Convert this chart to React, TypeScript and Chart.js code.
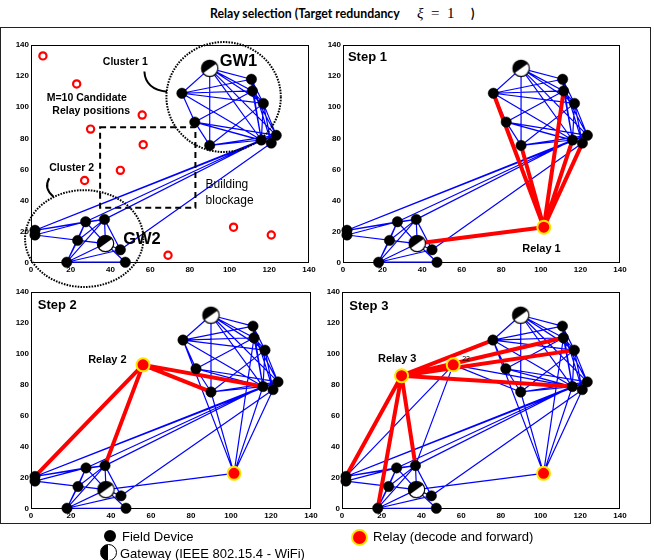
import React, { useEffect, useRef } from "react";
import { Chart, registerables } from "chart.js";

Chart.register(...registerables);

// ---------- Data (data units, both axes 0..140) ----------
const axisMin = 0;
const axisMax = 140;
const axisStep = 20;

const fieldIds = ["B", "C", "D", "E", "F", "G", "H", "I", "J", "K", "L", "M", "N", "O", "Q", "R", "S"];
const fieldX = [111, 111.5, 76, 117, 82.5, 116, 123.5, 121, 90, 2, 2, 27.5, 37, 23.5, 45, 18, 47.5];
const fieldY = [118, 110.5, 109, 102.5, 90.5, 79, 82, 77, 75.5, 21, 18, 26.5, 28, 14.5, 8.5, 0.5, 0.5];

const gatewayIds = ["A", "P"];
const gatewayX = [90, 37.5];
const gatewayY = [125, 12.5];

const relayIds = ["R1", "R2", "R3"];
const relayX = [101.5, 56, 30];
const relayY = [23, 93, 86];

const candidateX = [6, 23, 56, 30, 56.5, 45, 27, 102, 121, 69];
const candidateY = [133, 115, 95, 86, 76, 59.5, 53, 23, 18, 5];

const meshLinks = [
  "A-D", "A-J", "A-B", "A-C", "A-E", "A-G", "A-H",
  "D-B", "D-C", "D-E", "D-G", "D-F",
  "F-C", "F-G", "F-H", "F-I", "F-J",
  "J-E", "J-G", "J-H",
  "B-C", "B-E", "B-G", "B-I", "C-E", "C-G", "C-H", "E-G", "E-H", "E-I", "G-H", "G-I", "H-I",
  "K-L", "K-M", "K-N", "L-M", "L-P", "M-N", "M-O", "M-P", "N-O", "N-P", "N-Q", "N-R",
  "M-R", "O-P", "P-Q", "P-R", "P-S", "R-Q", "R-S", "O-R",
  "G-K", "H-K", "G-M", "G-N", "I-Q",
];
const relay1Links = ["R1-D", "R1-J", "R1-C", "R1-G", "R1-I", "R1-P"];
const relay2Links = ["R2-K", "R2-N", "R2-J", "R2-G"];
const relay3Links = ["R3-K", "R3-R", "R3-N", "R3-D", "R3-C", "R3-E", "R3-G"];

const titleMain = "Relay selection (Target redundancy";
const stepLabels = ["", "Step 1", "Step 2", "Step 3"];
const relayLabels = ["", "Relay 1", "Relay 2", "Relay 3"];
const legendLabels = ["Field Device", "Gateway (IEEE 802.15.4 - WiFi)", "Relay (decode and forward)"];

// ---------- helpers ----------
const nodeMap: Record<string, { x: number; y: number }> = {};
fieldIds.forEach((id, i) => (nodeMap[id] = { x: fieldX[i], y: fieldY[i] }));
gatewayIds.forEach((id, i) => (nodeMap[id] = { x: gatewayX[i], y: gatewayY[i] }));
relayIds.forEach((id, i) => (nodeMap[id] = { x: relayX[i], y: relayY[i] }));

function linkData(links: string[]) {
  const out: { x: number; y: number }[] = [];
  for (const l of links) {
    const [a, b] = l.split("-");
    out.push({ ...nodeMap[a] }, { ...nodeMap[b] }, { x: NaN, y: NaN });
  }
  return out;
}

const FONT = "'Liberation Sans', Arial, sans-serif";

type Panel = {
  area: [number, number, number, number];
  blue: string[];
  red: string[];
  relays: number;
  candidates: boolean;
  bottomMargin: number;
  texts: { t: string; x: number; y: number; font: string; align?: CanvasTextAlign }[];
  shapes: boolean;
};

const panels: Panel[] = [
  {
    area: [31, 45, 309, 263], blue: meshLinks, red: [], relays: 0, candidates: true, bottomMargin: 32, shapes: true,
    texts: [
      { t: "Cluster 1", x: 47.5, y: 129, font: `bold 10.5px ${FONT}` },
      { t: "GW1", x: 104.5, y: 129.3, font: `bold 16.5px ${FONT}` },
      { t: "M=10 Candidate", x: 28.1, y: 105.8, font: `bold 10.5px ${FONT}` },
      { t: "Relay positions", x: 30.3, y: 97.6, font: `bold 10.5px ${FONT}` },
      { t: "Building", x: 87.9, y: 50, font: `12px ${FONT}`, align: "left" },
      { t: "blockage", x: 87.9, y: 40, font: `12px ${FONT}`, align: "left" },
      { t: "Cluster 2", x: 20.5, y: 61.2, font: `bold 10.5px ${FONT}` },
      { t: "GW2", x: 55.9, y: 15.2, font: `bold 16.5px ${FONT}` },
    ],
  },
  {
    area: [343, 45, 620, 263], blue: meshLinks, red: relay1Links, relays: 1, candidates: false, bottomMargin: 18, shapes: false,
    texts: [
      { t: stepLabels[1], x: 2.5, y: 132, font: `bold 13px ${FONT}`, align: "left" },
      { t: relayLabels[1], x: 100.3, y: 8.8, font: `bold 11px ${FONT}` },
    ],
  },
  {
    area: [31, 292, 311, 509], blue: [...meshLinks, ...relay1Links], red: relay2Links, relays: 2, candidates: false, bottomMargin: 18, shapes: false,
    texts: [
      { t: stepLabels[2], x: 3.4, y: 131.4, font: `bold 13px ${FONT}`, align: "left" },
      { t: relayLabels[2], x: 38.2, y: 96, font: `bold 11px ${FONT}` },
    ],
  },
  {
    area: [342, 292, 620, 509], blue: [...meshLinks, ...relay1Links, ...relay2Links], red: relay3Links, relays: 3, candidates: false, bottomMargin: 18, shapes: false,
    texts: [
      { t: stepLabels[3], x: 3.7, y: 131, font: `bold 13px ${FONT}`, align: "left" },
      { t: relayLabels[3], x: 27.8, y: 96.8, font: `bold 11px ${FONT}` },
      { t: "22", x: 62.5, y: 96.8, font: `7px ${FONT}` },
    ],
  },
];

const M_LEFT = 30, M_TOP = 10, M_RIGHT = 14, Y_W = 26, X_H = 14;

function makeGatewayIcon(r: number, diagonal: boolean): HTMLCanvasElement {
  const s = Math.ceil(r * 2 + 4);
  const c = document.createElement("canvas");
  c.width = s;
  c.height = s;
  const g = c.getContext("2d")!;
  const cx = s / 2, cy = s / 2;
  g.beginPath();
  g.arc(cx, cy, r, 0, Math.PI * 2);
  g.fillStyle = "#fff";
  g.fill();
  g.beginPath();
  if (diagonal) g.arc(cx, cy, r, Math.PI * 0.8, Math.PI * 1.8);
  else g.arc(cx, cy, r, Math.PI * 0.5, Math.PI * 1.5);
  g.closePath();
  g.fillStyle = "#000";
  g.fill();
  g.beginPath();
  g.arc(cx, cy, r, 0, Math.PI * 2);
  g.lineWidth = 1.2;
  g.strokeStyle = "#000";
  g.stroke();
  return c;
}

function makeConfig(p: Panel, gw: HTMLCanvasElement): any {
  const datasets: any[] = [];
  datasets.push({
    data: linkData(p.blue), showLine: true, spanGaps: false, borderColor: "#0000ff",
    borderWidth: 1.2, pointRadius: 0, order: 6,
  });
  if (p.red.length) {
    datasets.push({
      data: linkData(p.red), showLine: true, spanGaps: false, borderColor: "#ff0000",
      borderWidth: 4, pointRadius: 0, order: 5,
    });
  }
  if (p.candidates) {
    datasets.push({
      data: candidateX.map((x, i) => ({ x, y: candidateY[i] })), showLine: false,
      pointRadius: 3.6, pointBackgroundColor: "#fff", pointBorderColor: "#ff0000",
      pointBorderWidth: 2.2, order: 4, clip: false,
    });
  }
  datasets.push({
    data: fieldX.map((x, i) => ({ x, y: fieldY[i] })), showLine: false,
    pointRadius: 5.2, pointBackgroundColor: "#000", pointBorderColor: "#000",
    pointBorderWidth: 0.5, order: 3, clip: false,
  });
  datasets.push({
    data: gatewayX.map((x, i) => ({ x, y: gatewayY[i] })), showLine: false,
    pointStyle: gw, pointRadius: 8, order: 2, clip: false,
  });
  if (p.relays > 0) {
    datasets.push({
      data: relayX.slice(0, p.relays).map((x, i) => ({ x, y: relayY[i] })), showLine: false,
      pointRadius: 6.5, pointBackgroundColor: "#ff0000", pointBorderColor: "#ffe600",
      pointBorderWidth: 2, order: 1, clip: false,
    });
  }

  const tickFont = { family: FONT, size: 8, weight: "bold" as const };

  const boxPlugin = {
    id: "box",
    beforeDatasetsDraw(chart: any) {
      const { ctx, chartArea: a } = chart;
      ctx.save();
      ctx.strokeStyle = "#000";
      ctx.lineWidth = 1;
      ctx.strokeRect(a.left + 0.5, a.top + 0.5, a.right - a.left - 1, a.bottom - a.top - 1);
      ctx.restore();
    },
    afterDatasetsDraw(chart: any) {
      const { ctx } = chart;
      const xs = chart.scales.x, ys = chart.scales.y;
      const px = (v: number) => xs.getPixelForValue(v);
      const py = (v: number) => ys.getPixelForValue(v);
      ctx.save();
      if (p.shapes) {
        ctx.strokeStyle = "#000";
        ctx.lineWidth = 2;
        ctx.setLineDash([1.6, 1.2]);
        const ell = (cx: number, cy: number, rx: number, ry: number) => {
          ctx.beginPath();
          ctx.ellipse(px(cx), py(cy), px(cx + rx) - px(cx), py(cy) - py(cy + ry), 0, 0, Math.PI * 2);
          ctx.stroke();
        };
        ell(97, 106.6, 28.8, 35.3);
        ell(26.8, 15.7, 29.8, 31.1);
        ctx.setLineDash([6, 4]);
        ctx.lineWidth = 2;
        ctx.strokeRect(px(34.8), py(87.2), px(82.8) - px(34.8), py(35.5) - py(87.2));
        ctx.setLineDash([]);
        ctx.lineWidth = 2;
        ctx.beginPath();
        ctx.moveTo(px(57.1), py(123));
        ctx.quadraticCurveTo(px(57.6), py(111.5), px(68.5), py(110));
        ctx.stroke();
        ctx.beginPath();
        ctx.moveTo(px(9.2), py(54.4));
        ctx.quadraticCurveTo(px(6.2), py(48), px(11.3), py(42.6));
        ctx.stroke();
      }
      ctx.fillStyle = "#000";
      ctx.textBaseline = "middle";
      for (const t of p.texts) {
        ctx.font = t.font;
        ctx.textAlign = t.align || "center";
        ctx.fillText(t.t, px(t.x), py(t.y));
      }
      ctx.restore();
    },
  };

  return {
    type: "scatter",
    data: { datasets },
    options: {
      animation: false,
      responsive: false,
      maintainAspectRatio: false,
      events: [],
      layout: {
        padding: { left: M_LEFT - Y_W, top: M_TOP, right: M_RIGHT, bottom: p.bottomMargin - X_H },
      },
      plugins: { legend: { display: false }, tooltip: { enabled: false }, title: { display: false } },
      scales: {
        x: {
          type: "linear", min: axisMin, max: axisMax,
          ticks: { stepSize: axisStep, font: tickFont, color: "#000", padding: 2, maxRotation: 0, autoSkip: false },
          grid: { display: false, drawTicks: false },
          border: { display: false },
          afterFit: (s: any) => { s.height = X_H; s.paddingLeft = 0; s.paddingRight = 0; },
        },
        y: {
          type: "linear", min: axisMin, max: axisMax,
          ticks: { stepSize: axisStep, font: tickFont, color: "#000", padding: 2, autoSkip: false },
          grid: { display: false, drawTicks: false },
          border: { display: false },
          afterFit: (s: any) => { s.width = Y_W; s.paddingTop = 0; s.paddingBottom = 0; },
        },
      },
    },
    plugins: [boxPlugin],
  };
}

export default function App() {
  const canvasRefs = useRef<(HTMLCanvasElement | null)[]>([]);

  useEffect(() => {
    const gw = makeGatewayIcon(8.2, true);
    const charts = panels.map((p, i) => new Chart(canvasRefs.current[i]!, makeConfig(p, gw)));
    return () => charts.forEach((c) => c.destroy());
  }, []);

  const textStyle: React.CSSProperties = {
    position: "absolute", fontFamily: FONT, fontSize: 13, color: "#000", lineHeight: "16px", whiteSpace: "nowrap",
  };
  const serif: React.CSSProperties = {
    position: "absolute", top: 4, fontFamily: "'Liberation Serif', 'DejaVu Serif', serif", fontSize: 15, lineHeight: "18px", whiteSpace: "nowrap",
  };

  return (
    <div style={{ position: "fixed", left: 0, top: 0, width: 654, height: 560, background: "#fff", overflow: "hidden" }}>
      {/* title */}
      <div style={{ position: "absolute", left: 210, top: 5, whiteSpace: "nowrap", fontFamily: "Lato, 'Open Sans', sans-serif", fontWeight: 700, fontSize: 12.3, lineHeight: "18px" }}>
        {titleMain}
      </div>
      <div style={{ ...serif, left: 417 }}><i>ξ</i></div>
      <div style={{ ...serif, left: 431 }}>=</div>
      <div style={{ ...serif, left: 447 }}>1</div>
      <div style={{ position: "absolute", left: 471, top: 5, fontFamily: "Lato, 'Open Sans', sans-serif", fontWeight: 700, fontSize: 12.3, lineHeight: "18px" }}>)</div>
      {/* figure frame */}
      <div style={{ position: "absolute", left: 0, top: 27, width: 649, height: 495, border: "1.5px solid #222" }} />
      {panels.map((p, i) => {
        const [l, t, r, b] = p.area;
        const w = r - l + M_LEFT + M_RIGHT;
        const h = b - t + M_TOP + p.bottomMargin;
        return (
          <canvas
            key={i}
            ref={(el) => { canvasRefs.current[i] = el; }}
            width={w}
            height={h}
            style={{ position: "absolute", left: l - M_LEFT, top: t - M_TOP, width: w, height: h }}
          />
        );
      })}
      {/* legend */}
      <div style={{ position: "absolute", left: 104, top: 530, width: 12, height: 12, borderRadius: "50%", background: "#000" }} />
      <div style={{ ...textStyle, left: 122, top: 529 }}>{legendLabels[0]}</div>
      <div style={{ position: "absolute", left: 100, top: 544, width: 17, height: 17, borderRadius: "50%", border: "1.3px solid #000", background: "linear-gradient(to right, #000 50%, #fff 50%)", boxSizing: "border-box" }} />
      <div style={{ ...textStyle, left: 120, top: 546 }}>{legendLabels[1]}</div>
      <div style={{ position: "absolute", left: 350.5, top: 528.5, width: 17, height: 17, borderRadius: "50%", background: "#ff0000", border: "2px solid #ffe600", boxSizing: "border-box" }} />
      <div style={{ ...textStyle, left: 373, top: 529 }}>{legendLabels[2]}</div>
    </div>
  );
}
